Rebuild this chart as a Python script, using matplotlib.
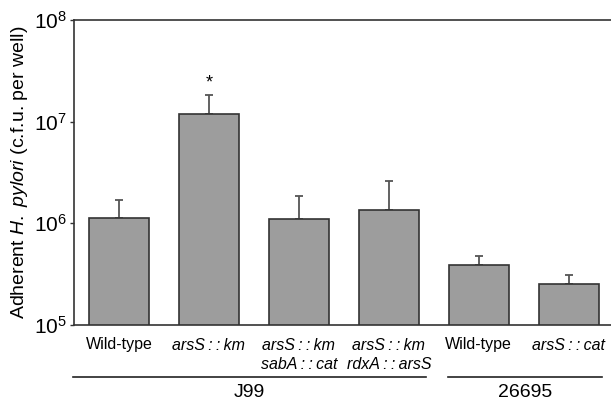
import numpy as np
import matplotlib
matplotlib.use("Agg")
import matplotlib.pyplot as plt
import matplotlib.transforms as mtransforms

plt.rcParams['font.family'] = ['Liberation Sans', 'DejaVu Sans']
plt.rcParams['mathtext.fontset'] = 'custom'
plt.rcParams['mathtext.rm'] = 'Liberation Sans'
plt.rcParams['mathtext.it'] = 'Liberation Sans:italic'

# data (c.f.u. per well)
strains = ['Wild-type', 'arsS\u2009:\u2009:\u2009km', 'arsS\u2009:\u2009:\u2009km\nsabA\u2009:\u2009:\u2009cat',
           'arsS\u2009:\u2009:\u2009km\nrdxA\u2009:\u2009:\u2009arsS', 'Wild-type', 'arsS\u2009:\u2009:\u2009cat']
italic = [False, True, True, True, False, True]
means = [1.14e6, 1.19e7, 1.11e6, 1.35e6, 3.92e5, 2.53e5]
upper = [1.69e6, 1.84e7, 1.87e6, 2.59e6, 4.81e5, 3.10e5]
groups = ['J99', '26695']
group_span = [(-0.51, 3.41), (3.66, 5.37)]
ytick_vals = [1e5, 1e6, 1e7, 1e8]
ytick_labels = ['$10^{5}$', '$10^{6}$', '$10^{7}$', '$10^{8}$']

fig = plt.figure(figsize=(6.11, 4.03), dpi=100)
ax = fig.add_axes([74/611, 78/403, 1 - 74/611, 305/403])

x = np.arange(len(means))
err = np.array(upper) - np.array(means)
ax.bar(x, means, width=0.67, color='#9d9d9d', edgecolor='#333333', linewidth=1.2, zorder=2)
ax.errorbar(x, means, yerr=[np.zeros_like(err), err], fmt='none', ecolor='#555555',
            elinewidth=1.3, capsize=3, capthick=1.3, zorder=1)
ax.text(1, upper[1] * 1.3, '*', ha='center', va='center', fontsize=13)

ax.set_yscale('log')
ax.set_ylim(1e5, 1e8)
ax.set_xlim(-0.5, 5.47)
ax.set_yticks(ytick_vals)
ax.set_yticklabels(ytick_labels, fontsize=15)
ax.minorticks_off()
ax.tick_params(axis='y', length=3, width=1, color='#333333', pad=2)

ax.set_xticks(x)
ax.set_xticklabels(strains, fontsize=11.5, linespacing=1.35, va='top')
for lab, it in zip(ax.get_xticklabels(), italic):
    if it:
        lab.set_style('italic')
ax.tick_params(axis='x', length=0, pad=9)

for s in ['left', 'top', 'bottom']:
    ax.spines[s].set_color('#333333')
    ax.spines[s].set_linewidth(1.2)
ax.spines['right'].set_visible(False)

ax.set_ylabel('Adherent $\\mathit{H.\\ pylori}$ (c.f.u. per well)', fontsize=14, labelpad=3)

# strain group brackets below the axis
trans = mtransforms.blended_transform_factory(ax.transData, ax.transAxes)
for name, (x0, x1) in zip(groups, group_span):
    ax.plot([x0, x1], [-0.17, -0.17], color='#222222', lw=1.2, transform=trans, clip_on=False)
    ax.text((x0 + x1) / 2, -0.222, name, ha='center', va='center', fontsize=14, transform=trans)

fig.savefig('out.png', dpi=100)
